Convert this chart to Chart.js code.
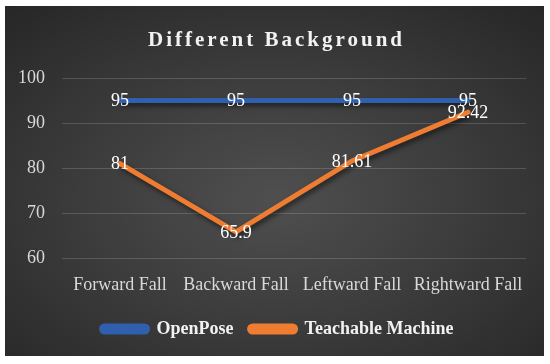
<!DOCTYPE html>
<html lang="en">
  <head>
    <meta charset="UTF-8" />
    <title>Different Background</title>
    <script src="https://cdn.jsdelivr.net/npm/chart.js"></script>
    <style>
      body { margin: 0; background: #fff; }
      #box {
        position: absolute; left: 5px; top: 6px; width: 539px; height: 350px;
        background: radial-gradient(ellipse 75% 75% at 50% 55%, #4f4f4f 0%, #3b3b3b 50%, #262626 100%);
      }
      canvas { display: block; }
    </style>
  </head>
  <body>
    <div id="box"><canvas id="chart" width="539" height="350"></canvas></div>

    <script>
      // Chart data
      const titleText = 'Different Background';
      const categories = ['Forward Fall', 'Backward Fall', 'Leftward Fall', 'Rightward Fall'];
      const openPose = [95, 95, 95, 95];
      const teachableMachine = [81, 65.9, 81.61, 92.42];
      const yTicks = [60, 70, 80, 90, 100];

      const serif = '"Liberation Serif", "DejaVu Serif", serif';

      // Title with letter spacing
      const titlePlugin = {
        id: 'spacedTitle',
        afterDraw(chart) {
          const ctx = chart.ctx;
          ctx.save();
          ctx.font = 'bold 21px ' + serif;
          ctx.letterSpacing = '3px';
          ctx.fillStyle = '#f2f2f2';
          ctx.textAlign = 'center';
          ctx.textBaseline = 'middle';
          ctx.fillText(titleText, chart.width / 2 + 2, 35);
          ctx.restore();
        }
      };

      // Legend sits centred on the whole box, not the padded area
      const legendShift = {
        id: 'legendShift',
        afterLayout(chart) {
          chart.legend.left += 12;
          chart.legend.right += 12;
        }
      };

      // Drop shadow under the lines
      const shadowPlugin = {
        id: 'lineShadow',
        beforeDatasetDraw(chart) {
          const ctx = chart.ctx;
          ctx.save();
          ctx.shadowColor = 'rgba(0,0,0,0.55)';
          ctx.shadowBlur = 5;
          ctx.shadowOffsetX = 2;
          ctx.shadowOffsetY = 3;
        },
        afterDatasetDraw(chart) {
          chart.ctx.restore();
        }
      };

      // Value labels centred on each point
      const labelPlugin = {
        id: 'valueLabels',
        afterDatasetsDraw(chart) {
          const ctx = chart.ctx;
          ctx.save();
          ctx.font = '18px ' + serif;
          ctx.fillStyle = '#ffffff';
          ctx.textAlign = 'center';
          ctx.textBaseline = 'middle';
          chart.data.datasets.forEach((ds, i) => {
            chart.getDatasetMeta(i).data.forEach((pt, j) => {
              ctx.fillText(String(ds.data[j]), pt.x, pt.y + 1);
            });
          });
          ctx.restore();
        }
      };

      new Chart(document.getElementById('chart'), {
        type: 'line',
        data: {
          labels: categories,
          datasets: [
            {
              label: 'OpenPose',
              data: openPose,
              borderColor: '#3060ad',
              backgroundColor: '#3060ad',
              borderWidth: 5,
              pointRadius: 0,
              borderCapStyle: 'round',
              tension: 0
            },
            {
              label: 'Teachable Machine',
              data: teachableMachine,
              borderColor: '#ee7d31',
              backgroundColor: '#ee7d31',
              borderWidth: 5,
              pointRadius: 0,
              borderCapStyle: 'round',
              tension: 0
            }
          ]
        },
        options: {
          responsive: false,
          animation: false,
          layout: { padding: { top: 72, left: 0, right: 18, bottom: 8 } },
          plugins: {
            title: { display: false },
            tooltip: { enabled: false },
            legend: {
              position: 'bottom',
              labels: {
                color: '#f2f2f2',
                font: { family: serif, size: 18, weight: 'bold' },
                boxWidth: 46,
                boxHeight: 6,
                useBorderRadius: true,
                borderRadius: 3,
                padding: 16
              }
            }
          },
          scales: {
            x: {
              offset: true,
              grid: { display: false },
              border: { display: false },
              ticks: {
                color: '#d9d9d9',
                font: { family: serif, size: 18 },
                padding: 8,
                maxRotation: 0,
                autoSkip: false
              }
            },
            y: {
              min: yTicks[0],
              max: yTicks[yTicks.length - 1],
              afterBuildTicks(axis) {
                axis.ticks = yTicks.map(v => ({ value: v }));
              },
              afterFit(axis) {
                axis.width = 57;
              },
              grid: { color: 'rgba(255,255,255,0.16)', lineWidth: 1, drawTicks: false },
              border: { display: false },
              ticks: {
                color: '#d9d9d9',
                font: { family: serif, size: 18 },
                padding: 17
              }
            }
          }
        },
        plugins: [titlePlugin, legendShift, shadowPlugin, labelPlugin]
      });
    </script>
  </body>
</html>
